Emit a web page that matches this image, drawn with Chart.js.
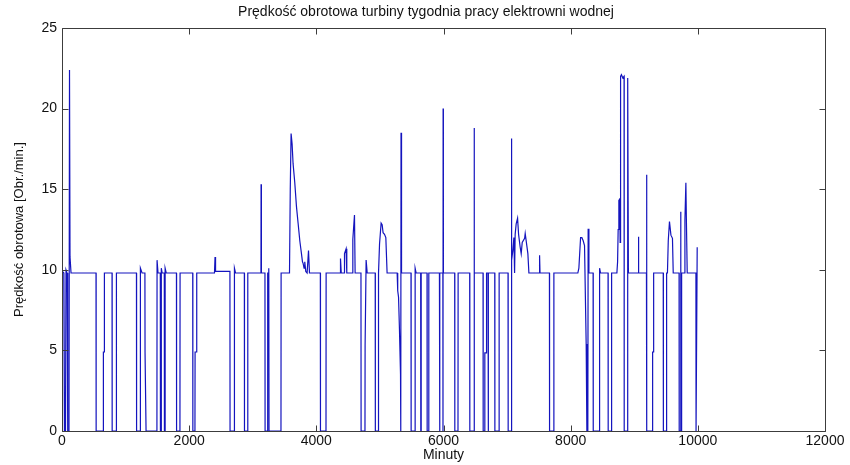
<!DOCTYPE html>
<html>
<head>
<meta charset="utf-8">
<title>Prędkość obrotowa turbiny</title>
<script src="https://cdn.jsdelivr.net/npm/chart.js@4.4.1/dist/chart.umd.min.js"></script>
<style>
    html, body { margin: 0; padding: 0; background: #ffffff; }
    #wrap { width: 850px; height: 465px; }
</style>
</head>
<body>
<div id="wrap"><canvas id="speedChart" width="850" height="465"></canvas></div>
<script>
// Turbine speed log, one week of operation (minute, rev/min)
const minutes = [
    0, 8, 30, 40, 55, 63, 80, 90, 110, 118, 126, 142,
    535, 537, 649, 651, 664, 667, 787, 789, 854, 856,
    1171, 1173, 1228, 1233, 1259, 1304, 1306, 1320, 1322,
    1493, 1495, 1510, 1546, 1548, 1560, 1562, 1575, 1609, 1611, 1620, 1622, 1640,
    1800, 1802, 1855, 1857, 2056, 2058, 2091, 2093, 2117, 2119,
    2398, 2407, 2415, 2641, 2643, 2710, 2712, 2730, 2868, 2870, 2920, 2922,
    3129, 3131, 3136, 3192, 3194, 3230, 3235, 3250, 3252, 3256, 3444, 3446,
    3578, 3590, 3603, 3619, 3634, 3661, 3688, 3713, 3740, 3766, 3782, 3792,
    3807, 3818, 3834, 3855, 3877, 3892,
    4063, 4065, 4152, 4154, 4378, 4380, 4392, 4440, 4443, 4468, 4479,
    4570, 4574, 4600, 4610, 4702, 4704, 4765, 4767, 4781, 4783, 4800,
    4926, 4928, 4976, 4978, 4994, 5019, 5035, 5050, 5072, 5093, 5113,
    5271, 5280, 5293, 5308, 5324, 5328, 5332, 5340,
    5489, 5491, 5552, 5554, 5570, 5641, 5643, 5647, 5649, 5741, 5743, 5767, 5769,
    5936, 5938, 5942, 5944, 5990, 5992, 5994, 5998,
    6176, 6178, 6228, 6230, 6412, 6414, 6480, 6482, 6486,
    6622, 6624, 6648, 6650, 6675, 6677, 6700, 6702, 6706, 6708,
    6806, 6808, 6873, 6875, 7015, 7017, 7065, 7067, 7075, 7091, 7107, 7118,
    7127, 7143, 7165, 7181, 7206, 7222, 7238, 7276, 7285, 7327, 7343,
    7509, 7511, 7518, 7666, 7668, 7734, 7736,
    8113, 8129, 8156, 8176, 8197, 8218, 8244, 8255, 8270, 8275, 8287,
    8353, 8355, 8453, 8455, 8470, 8588, 8590, 8642, 8644,
    8727, 8738, 8747, 8758, 8774, 8778, 8785, 8798, 8821, 8840, 8842,
    8887, 8897, 8908,
    9063, 9065, 9072, 9192, 9194, 9198, 9287, 9289, 9303, 9305,
    9456, 9458, 9507, 9509, 9522, 9535, 9554, 9577, 9601, 9613,
    9705, 9707, 9728, 9730, 9734, 9743, 9745, 9790, 9797, 9812, 9820, 9833,
    9970, 9972, 9985, 9990
];

const speed = [
    0, 9.9, 9.8, 0, 0, 10.0, 9.8, 0, 0, 22.4, 10.8, 9.8,
    9.8, 0, 0, 4.9, 4.9, 9.8, 9.8, 0, 0, 9.8,
    9.8, 0, 0, 10.1, 9.8, 9.8, 4.9, 4.9, 0,
    0, 10.6, 9.8, 9.8, 0, 0, 10.1, 9.8, 9.8, 0, 0, 10.1, 9.8,
    9.8, 0, 0, 9.8, 9.8, 0, 0, 4.9, 4.9, 9.8,
    9.8, 10.8, 9.9, 9.9, 0, 0, 10.1, 9.8, 9.8, 0, 0, 9.8,
    9.8, 15.3, 9.8, 9.8, 0, 0, 9.8, 9.8, 10.1, 0, 0, 9.8,
    9.8, 15.0, 18.45, 17.8, 16.6, 15.4, 13.9, 12.9, 11.8, 11.0, 10.5, 10.4,
    10.1, 10.5, 9.9, 9.8, 11.2, 9.8,
    9.8, 0, 0, 9.8, 9.8, 10.7, 9.8, 9.8, 11.0, 11.3, 9.8,
    9.8, 11.9, 13.4, 9.8, 9.8, 0, 0, 5.3, 5.3, 10.6, 9.8,
    9.8, 0, 0, 9.8, 11.6, 12.9, 12.8, 12.3, 12.2, 12.0, 9.8,
    9.8, 8.7, 8.3, 6.2, 3.5, 0, 18.5, 9.8,
    9.8, 0, 0, 10.1, 9.8, 9.8, 0, 0, 9.8, 9.8, 0, 0, 9.8,
    9.8, 0, 0, 9.8, 9.8, 0, 20.0, 9.8,
    9.8, 0, 0, 9.8, 9.8, 0, 0, 18.8, 9.8,
    9.8, 0, 0, 4.85, 4.85, 9.8, 9.8, 0, 0, 9.8,
    9.8, 0, 0, 9.8, 9.8, 0, 0, 18.15, 10.6, 11.2, 12.0, 9.8,
    12.2, 12.85, 13.2, 12.2, 11.4, 11.0, 11.7, 11.95, 12.25, 11.0, 9.8,
    9.8, 10.9, 9.8, 9.8, 0, 0, 9.8,
    9.8, 10.1, 12.0, 12.0, 11.8, 11.5, 5.4, 0, 0, 12.55, 9.8,
    9.8, 0, 0, 10.1, 9.8, 9.8, 0, 0, 9.8,
    9.8, 10.5, 12.5, 14.3, 14.4, 11.7, 22.0, 22.1, 21.9, 22.0, 0,
    0, 21.9, 9.8,
    9.8, 12.05, 9.8, 9.8, 15.9, 0, 0, 4.9, 4.9, 9.8,
    9.8, 0, 0, 9.8, 9.8, 11.8, 13.0, 12.15, 11.95, 9.8,
    9.8, 0, 0, 13.6, 0, 0, 9.8, 9.8, 13.1, 15.4, 13.1, 9.8,
    9.8, 0, 0, 11.4
];

// Axis ticks
const xTicks = [0, 2000, 4000, 6000, 8000, 10000, 12000];
const yTicks = [0, 5, 10, 15, 20, 25];

const TITLE = 'Prędkość obrotowa turbiny tygodnia pracy elektrowni wodnej';
const FONT = '"Liberation Sans", Arial, Helvetica, sans-serif';
const TICK_LEN = 6;

// Boxed axes with inward tick marks on all four sides, plus the title
const boxedAxes = {
    id: 'boxedAxes',
    afterDatasetsDraw(chart) {
        const { ctx, chartArea: a, scales: { x, y } } = chart;
        const left = Math.round(a.left) + 0.5;
        const right = Math.round(a.right) + 0.5;
        const top = Math.round(a.top) + 0.5;
        const bottom = Math.round(a.bottom) + 0.5;

        ctx.save();
        ctx.strokeStyle = '#3c3c3c';
        ctx.lineWidth = 1;
        ctx.beginPath();
        ctx.rect(left, top, right - left, bottom - top);

        xTicks.forEach(v => {
            const px = Math.round(x.getPixelForValue(v)) + 0.5;
            ctx.moveTo(px, bottom);
            ctx.lineTo(px, bottom - TICK_LEN);
            ctx.moveTo(px, top);
            ctx.lineTo(px, top + TICK_LEN);
        });
        yTicks.forEach(v => {
            const py = Math.round(y.getPixelForValue(v)) + 0.5;
            ctx.moveTo(left, py);
            ctx.lineTo(left + TICK_LEN, py);
            ctx.moveTo(right, py);
            ctx.lineTo(right - TICK_LEN, py);
        });
        ctx.stroke();

        ctx.fillStyle = '#111111';
        ctx.font = '14px ' + FONT;
        ctx.textAlign = 'center';
        ctx.textBaseline = 'middle';
        ctx.fillText(TITLE, 426, 12);
        ctx.restore();
    }
};

const ctx = document.getElementById('speedChart').getContext('2d');
new Chart(ctx, {
    type: 'scatter',
    data: {
        datasets: [{
            label: 'Prędkość obrotowa',
            data: minutes.map((m, i) => ({ x: m, y: speed[i] })),
            showLine: true,
            borderColor: 'rgb(20, 20, 190)',
            borderWidth: 1.2,
            pointRadius: 0,
            tension: 0
        }]
    },
    options: {
        responsive: false,
        animation: false,
        layout: {
            padding: { left: 8, right: 25, top: 28, bottom: 0 }
        },
        plugins: {
            legend: { display: false },
            tooltip: { enabled: false },
            title: { display: false }
        },
        scales: {
            x: {
                type: 'linear',
                min: 0,
                max: 12000,
                grid: { display: false, drawTicks: false },
                border: { display: false },
                afterBuildTicks: scale => { scale.ticks = xTicks.map(v => ({ value: v })); },
                afterFit: scale => { scale.height = 34; },
                ticks: {
                    color: '#111111',
                    font: { family: FONT, size: 14 },
                    padding: 2,
                    maxRotation: 0,
                    autoSkip: false,
                    callback: v => String(v)
                },
                title: {
                    display: true,
                    text: 'Minuty',
                    color: '#111111',
                    font: { family: FONT, size: 14 },
                    padding: { top: 0, bottom: 1 }
                }
            },
            y: {
                type: 'linear',
                min: 0,
                max: 25,
                grid: { display: false, drawTicks: false },
                border: { display: false },
                afterBuildTicks: scale => { scale.ticks = yTicks.map(v => ({ value: v })); },
                afterFit: scale => { scale.width = 54; },
                ticks: {
                    color: '#111111',
                    font: { family: FONT, size: 14 },
                    padding: 5
                },
                title: {
                    display: true,
                    text: 'Prędkość obrotowa [Obr./min.]',
                    color: '#111111',
                    font: { family: FONT, size: 13 },
                    padding: { top: 4, bottom: 0 }
                }
            }
        }
    },
    plugins: [boxedAxes]
});
</script>
</body>
</html>
